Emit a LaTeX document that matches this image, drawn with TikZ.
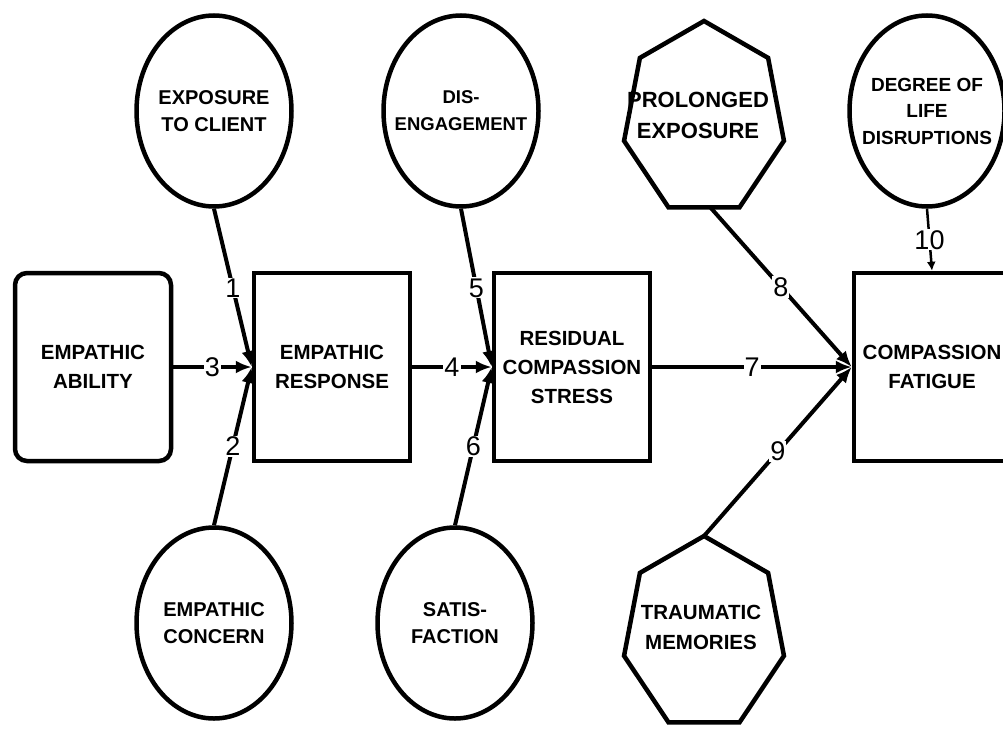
\documentclass[tikz,border=0pt]{standalone}
\usepackage{fontspec}
\setmainfont{Liberation Sans}
\usepackage{tikz}
\usetikzlibrary{shapes.geometric,arrows.meta,positioning,calc}

\newcommand{\boxfont}{\fontsize{20.5}{29}\selectfont\bfseries}
\newcommand{\ovalfont}{\fontsize{20}{27}\selectfont\bfseries}
\newcommand{\hepfont}{\fontsize{22}{31}\selectfont\bfseries}
\newcommand{\numfont}{\fontsize{27}{27}\selectfont}

\begin{document}
\begin{tikzpicture}[x=1pt, y=-1pt, line width=4.5pt,
    box/.style={draw, rectangle, minimum width=156pt, minimum height=188pt,
        inner sep=0pt, font=\boxfont, align=center},
    oval/.style={draw, ellipse, minimum width=155pt, minimum height=191pt, inner sep=0pt},
    ovaltext/.style={font=\ovalfont, align=center, inner sep=0pt},
    heptext/.style={font=\hepfont, align=center, inner sep=0pt},
    num/.style={fill=white, inner sep=1pt, font=\numfont},
    link/.style={-{Latex[length=16pt,width=13pt]}, line width=4pt},
    thinlink/.style={-{Latex[length=9pt,width=9pt]}, line width=2.5pt}]

    \useasboundingbox (0,0) rectangle (1003,728);
    \clip (0,0) rectangle (1003,728);

    % Main chain of boxes
    \node[box, rounded corners=12pt] (ability) at (93,367) {EMPATHIC\\ABILITY};
    \node[box] (response) at (332,367) {EMPATHIC\\RESPONSE};
    \node[box] (residual) at (572,367) {RESIDUAL\\COMPASSION\\STRESS};
    \node[box] (fatigue) at (932,367) {COMPASSION\\FATIGUE};

    % Outer factors (ovals)
    \foreach \n/\x/\y in {exposure/214/111, disengage/461/111, degree/927/111,
                          concern/214/623, satisfy/455/623}
        \node[oval] (\n) at (\x,\y) {};

    \node[ovaltext] (exposure-t) at (exposure) {EXPOSURE\\TO CLIENT};
    \node[ovaltext, font=\fontsize{18.5}{27}\selectfont\bfseries] (disengage-t) at (disengage) {DIS-\\ENGAGEMENT};
    \node[ovaltext, font=\fontsize{19}{26.5}\selectfont\bfseries] (degree-t) at (degree) {DEGREE OF\\LIFE\\DISRUPTIONS};
    \node[ovaltext] (concern-t) at (concern) {EMPATHIC\\CONCERN};
    \node[ovaltext] (satisfy-t) at (satisfy) {SATIS-\\FACTION};

    % Heptagons
    \foreach \n/\x/\y in {prolonged/704/119, traumatic/704/634} {
        \coordinate (\n) at (\x,\y);
        \draw[shift={(\n)}] (270:82 and 98)
            \foreach \k in {1,...,6} { -- (270+\k*360/7:82 and 98) } -- cycle;
    }
    \node[heptext] (prolonged-t) at ($(prolonged)+(-6,-4)$) {PROLONGED\\EXPOSURE};
    \node[heptext, font=\fontsize{20.5}{30}\selectfont\bfseries] (traumatic-t) at ($(traumatic)+(-3,-7)$) {TRAUMATIC\\MEMORIES};
    \coordinate (prolonged-b) at ($(prolonged)+(6,88)$);
    \coordinate (traumatic-a) at ($(traumatic)+(0,-98)$);

    % Connectors
    \draw[link] (exposure.south) -- node[num] {1} (response.west);
    \draw[link] (concern.north) -- node[num] {2} (response.west);
    \draw[link] (ability.east) -- node[num] {3} (response.west);
    \draw[link] (response.east) -- node[num] {4} (residual.west);
    \draw[link] (disengage.south) -- node[num] {5} (residual.west);
    \draw[link] (satisfy.north) -- node[num] {6} (residual.west);
    \draw[link] (residual.east) -- node[num] {7} (fatigue.west);
    \draw[link] (prolonged-b) -- node[num] {8} (fatigue.west);
    \draw[link] (traumatic-a) -- node[num] {9} (fatigue.west);
    \draw[thinlink] (degree.south) -- node[num] {10} (fatigue.north);

\end{tikzpicture}
\end{document}
